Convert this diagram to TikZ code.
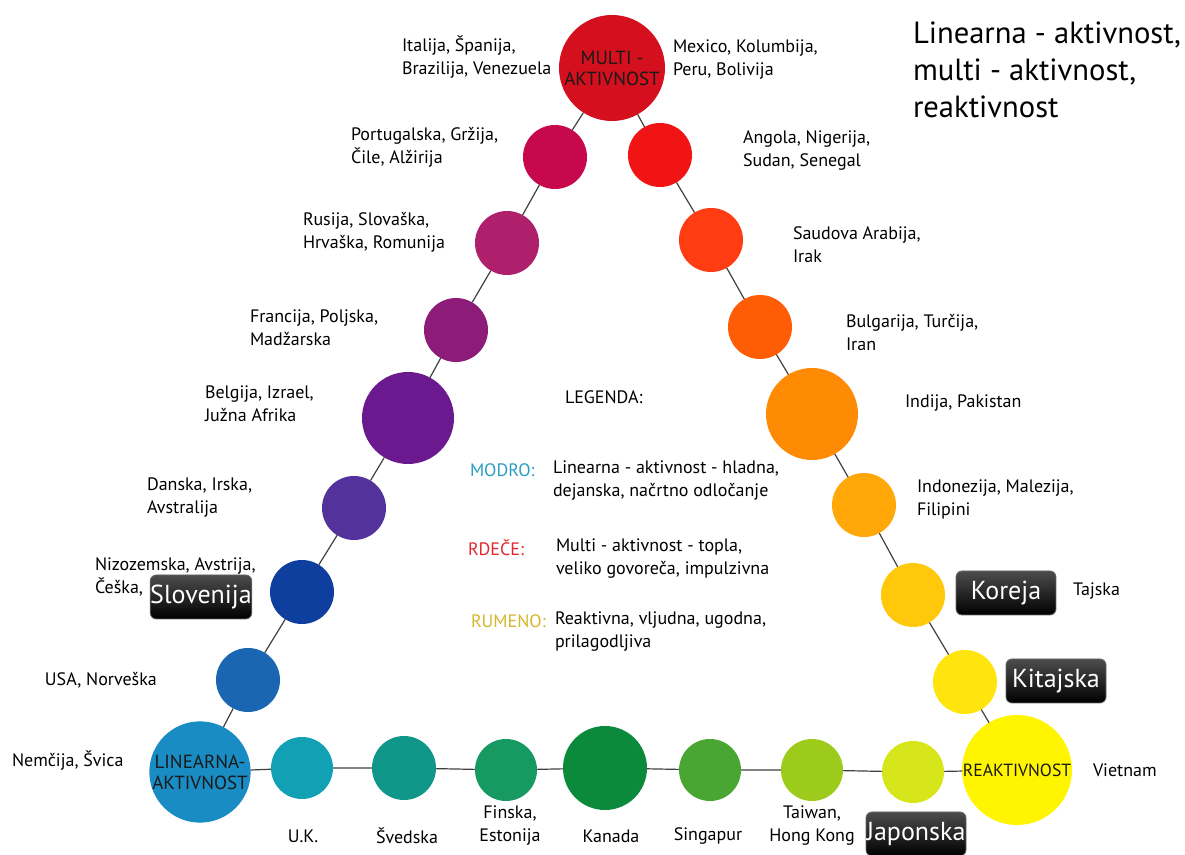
\documentclass[tikz,border=0pt]{standalone}
\usepackage{fontspec}
\setmainfont{PT Sans}
\usetikzlibrary{positioning}

\definecolor{cMulti}{HTML}{D40F1E}
\definecolor{cL1}{HTML}{C8084C}
\definecolor{cL2}{HTML}{AE1F6C}
\definecolor{cL3}{HTML}{8C1C78}
\definecolor{cL4}{HTML}{6A1A8E}
\definecolor{cL5}{HTML}{53329C}
\definecolor{cL6}{HTML}{0E3F9E}
\definecolor{cL7}{HTML}{1B66B2}
\definecolor{cLin}{HTML}{1A8CC4}
\definecolor{cR1}{HTML}{F01414}
\definecolor{cR2}{HTML}{FF3C12}
\definecolor{cR3}{HTML}{FF5C06}
\definecolor{cR4}{HTML}{FF8A04}
\definecolor{cR5}{HTML}{FFA808}
\definecolor{cR6}{HTML}{FFC80A}
\definecolor{cR7}{HTML}{FFE40E}
\definecolor{cRea}{HTML}{FFF500}
\definecolor{cB1}{HTML}{12A0B4}
\definecolor{cB2}{HTML}{11978A}
\definecolor{cB3}{HTML}{169A62}
\definecolor{cB4}{HTML}{0C8A3C}
\definecolor{cB5}{HTML}{4AA632}
\definecolor{cB6}{HTML}{9DCB1C}
\definecolor{cB7}{HTML}{D6E61A}
\definecolor{cModro}{HTML}{2B9CC4}
\definecolor{cRdece}{HTML}{E3262E}
\definecolor{cRumeno}{HTML}{D7B52A}

\begin{document}
\begin{tikzpicture}[x=0.5pt,y=-0.5pt,
  every node/.style={inner sep=0pt, outer sep=0pt},
  ball/.style={circle, fill=#1, minimum size=32pt},
  bigball/.style={circle, fill=#1, minimum size=46pt},
  ballText/.style={font=\fontsize{9.5}{10.5}\selectfont, align=center, text=black!90},
  lbl/.style={anchor=west, align=left, font=\fontsize{9}{11.5}\selectfont},
  blbl/.style={align=center, font=\fontsize{9}{11.5}\selectfont},
  tagbox/.style={rounded corners=3pt, top color=black!70, bottom color=black, draw=black!60,
    text=white, minimum width=50pt, minimum height=22pt, font=\fontsize{13}{15}\selectfont},
  link/.style={draw=black!75, line width=0.6pt}]
\useasboundingbox (0,0) rectangle (1185,855);

% corner balls
\node[circle, fill=cMulti, minimum size=53pt, ballText] (multi) at (612,68) {MULTI -\\AKTIVNOST};
\node[circle, fill=cLin, minimum size=50pt, ballText] (lin) at (200,772) {LINEARNA-\\AKTIVNOST};
\node[circle, fill=cRea, minimum size=55pt] (rea) at (1017,770) {};
\node[ballText, font=\fontsize{8.8}{9.5}\selectfont] at (1017,770) {REAKTIVNOST};

% left side
\node[ball=cL1] (l1) at (555,157) {};
\node[ball=cL2] (l2) at (507,243) {};
\node[ball=cL3] (l3) at (456,330) {};
\node[bigball=cL4] (l4) at (408,418) {};
\node[ball=cL5] (l5) at (354,508) {};
\node[ball=cL6] (l6) at (302,592) {};
\node[ball=cL7] (l7) at (248,680) {};

% right side
\node[ball=cR1] (r1) at (660,155) {};
\node[ball=cR2] (r2) at (711,240) {};
\node[ball=cR3] (r3) at (760,327) {};
\node[bigball=cR4] (r4) at (812,414) {};
\node[ball=cR5] (r5) at (864,505) {};
\node[ball=cR6] (r6) at (913,595) {};
\node[ball=cR7] (r7) at (965,682) {};

% bottom
\node[ball=cB1, minimum size=31pt] (b1) at (302,768) {};
\node[ball=cB2] (b2) at (404,768) {};
\node[ball=cB3, minimum size=31pt] (b3) at (506,770) {};
\node[circle, fill=cB4, minimum size=42pt] (b4) at (605,768) {};
\node[ball=cB5, minimum size=31pt] (b5) at (710,770) {};
\node[ball=cB6, minimum size=31pt] (b6) at (812,770) {};
\node[ball=cB7, minimum size=31pt] (b7) at (913,772) {};

\draw[link] (multi) -- (l1) -- (l2) -- (l3) -- (l4) -- (l5) -- (l6) -- (l7) -- (lin);
\draw[link] (multi) -- (r1) -- (r2) -- (r3) -- (r4) -- (r5) -- (r6) -- (r7) -- (rea);
\draw[link] (lin) -- (b1) -- (b2) -- (b3) -- (b4) -- (b5) -- (b6) -- (b7) -- (rea);

% country labels
\node[lbl] (tItal) at (402,57) {Italija, Španija,\\Brazilija, Venezuela};
\node[lbl] (tMex) at (673,60) {Mexico, Kolumbija,\\Peru, Bolivija};
\node[lbl] (tPort) at (351,147) {Portugalska, Gržija,\\Čile, Alžirija};
\node[lbl] (tAng) at (743,151) {Angola, Nigerija,\\Sudan, Senegal};
\node[lbl] (tRus) at (303,232) {Rusija, Slovaška,\\Hrvaška, Romunija};
\node[lbl] (tSau) at (793,245) {Saudova Arabija,\\Irak};
\node[lbl] (tFra) at (250,328) {Francija, Poljska,\\Madžarska};
\node[lbl] (tBul) at (846,332) {Bulgarija, Turčija,\\Iran};
\node[lbl] (tBel) at (205,404) {Belgija, Izrael,\\Južna Afrika};
\node[lbl] (tInd) at (905,403) {Indija, Pakistan};
\node[lbl] (tDan) at (147,498) {Danska, Irska,\\Avstralija};
\node[lbl] (tIdn) at (917,499) {Indonezija, Malezija,\\Filipini};
\node[lbl] (tNiz) at (95,577) {Nizozemska, Avstrija,\\Češka,};
\node[lbl] (tUSA) at (45,680) {USA, Norveška};
\node[lbl] (tNem) at (12,761) {Nemčija, Švica};
\node[lbl] (tTaj) at (1073,591) {Tajska};
\node[lbl] (tVie) at (1093,770) {Vietnam};
\node[blbl] (tUK) at (303,836) {U.K.};
\node[blbl] (tSve) at (407,836) {Švedska};
\node[blbl] (tFin) at (510,826) {Finska,\\Estonija};
\node[blbl] (tKan) at (611,836) {Kanada};
\node[blbl] (tSin) at (708,836) {Singapur};
\node[blbl] (tTai) at (812,826) {Taiwan,\\Hong Kong};

% highlighted countries
\node[tagbox] (slo) at (201,597) {Slovenija};
\node[tagbox] (kor) at (1006,593) {Koreja};
\node[tagbox] (kit) at (1056,681) {Kitajska};
\node[tagbox] (jap) at (916,834) {Japonska};

% legend
\node[lbl] (leg) at (565,397) {LEGENDA:};
\node[lbl, text=cModro] (kModro) at (470,470) {MODRO:};
\node[lbl] (dModro) at (553,481) {Linearna - aktivnost - hladna,\\dejanska, načrtno odločanje};
\node[lbl, text=cRdece] (kRdece) at (468,548) {RDEČE:};
\node[lbl] (dRdece) at (556,559) {Multi - aktivnost - topla,\\veliko govoreča, impulzivna};
\node[lbl, text=cRumeno] (kRumeno) at (471,621) {RUMENO:};
\node[lbl] (dRumeno) at (555,632) {Reaktivna, vljudna, ugodna,\\prilagodljiva};

% title
\node[anchor=north west, align=left, font=\fontsize{15.3}{18.5}\selectfont] (title) at (913,22)
  {Linearna - aktivnost,\\multi - aktivnost,\\reaktivnost};
\end{tikzpicture}
\end{document}
